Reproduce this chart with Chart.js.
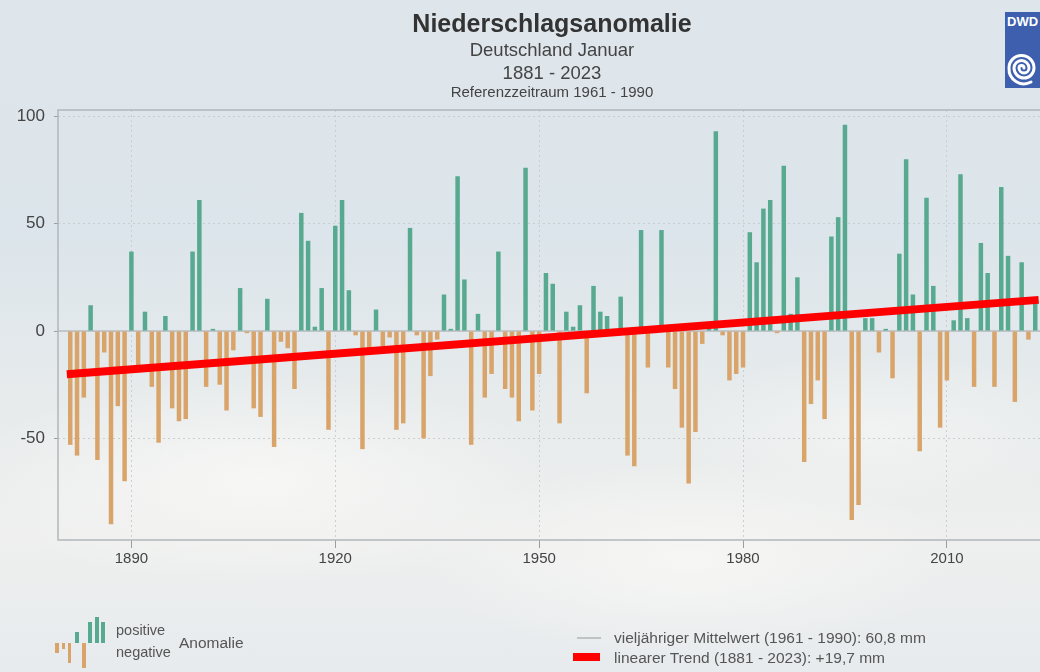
<!DOCTYPE html>
<html lang="de">
<head>
<meta charset="utf-8">
<title>Niederschlagsanomalie Deutschland Januar</title>
<script src="https://cdn.jsdelivr.net/npm/chart.js@4.4.1/dist/chart.umd.min.js"></script>
<style>
  html, body { margin: 0; padding: 0; }
  body {
    width: 1040px; height: 672px; overflow: hidden; position: relative;
    font-family: "Liberation Sans", Arial, sans-serif; color: #3a3a3a;
    background:
      radial-gradient(ellipse 420px 150px at 260px 480px, rgba(248,248,246,0.9), rgba(248,248,246,0) 70%),
      radial-gradient(ellipse 380px 140px at 690px 560px, rgba(247,247,245,0.9), rgba(247,247,245,0) 70%),
      radial-gradient(ellipse 300px 110px at 880px 430px, rgba(245,246,245,0.7), rgba(245,246,245,0) 70%),
      linear-gradient(to bottom, #dfe6eb 0%, #dce5eb 35%, #e7ebec 60%, #eeefee 80%, #e7ebee 100%);
  }
  #wrap { position: absolute; left: 0; top: 0; width: 1040px; height: 672px; }
  .title { position: absolute; left: 352px; width: 400px; text-align: center; white-space: nowrap; line-height: 1.15; }
  #t1 { top: 9px; font-size: 25px; font-weight: bold; color: #333; }
  #t2 { top: 39px; font-size: 18.5px; color: #444; }
  #t3 { top: 62px; font-size: 18.5px; color: #444; }
  #t4 { top: 83px; font-size: 15px; color: #444; }
  .leg { position: absolute; font-size: 15.5px; color: #555; white-space: nowrap; line-height: 18px; }
  .ib { position: absolute; }
  #logo { position: absolute; left: 1005px; top: 12px; width: 40px; height: 76px; background: #3d5fae; }
  #logo span { position: absolute; left: 2px; top: 2px; color: #fff; font-weight: bold; font-size: 13px; }
</style>
</head>
<body>
<div id="wrap"><canvas id="anomalyChart" width="1040" height="672"></canvas></div>

<div class="title" id="t1">Niederschlagsanomalie</div>
<div class="title" id="t2">Deutschland Januar</div>
<div class="title" id="t3">1881 - 2023</div>
<div class="title" id="t4">Referenzzeitraum 1961 - 1990</div>

<div id="logo">
  <span>DWD</span>
  <svg width="40" height="76" style="position:absolute;left:0;top:0">
    <path d="M19 56 A2.5 2.5 0 0 0 14 56 A5 5 0 0 0 24 56 A7.5 7.5 0 0 0 9 56 A10 10 0 0 0 29 56 A12.5 12.5 0 0 0 4 56 A15 15 0 0 0 26 70"
          fill="none" stroke="#fff" stroke-width="3" stroke-linecap="round"/>
  </svg>
</div>

<!-- legend, bottom left -->
<div class="ib" style="left:55px;top:643px;width:4px;height:10px;background:#d9a46a"></div>
<div class="ib" style="left:62px;top:643px;width:3px;height:6px;background:#d9a46a"></div>
<div class="ib" style="left:68px;top:643px;width:3px;height:20px;background:#d9a46a"></div>
<div class="ib" style="left:75px;top:632px;width:4px;height:11px;background:#57a98f"></div>
<div class="ib" style="left:82px;top:643px;width:4px;height:25px;background:#d9a46a"></div>
<div class="ib" style="left:88px;top:622px;width:4px;height:21px;background:#57a98f"></div>
<div class="ib" style="left:95px;top:617px;width:4px;height:26px;background:#57a98f"></div>
<div class="ib" style="left:101px;top:622px;width:4px;height:21px;background:#57a98f"></div>
<div class="leg" style="left:116px;top:621px;font-size:14.5px;">positive</div>
<div class="leg" style="left:116px;top:643px;font-size:14.5px;">negative</div>
<div class="leg" style="left:179px;top:634px;">Anomalie</div>

<!-- legend, bottom right -->
<div style="position:absolute;left:577px;top:637px;width:24px;height:2px;background:#c0c3c5"></div>
<div class="leg" style="left:614px;top:629px;">vieljähriger Mittelwert (1961 - 1990): 60,8 mm</div>
<div style="position:absolute;left:573px;top:653px;width:27px;height:8px;background:#ff0000"></div>
<div class="leg" style="left:614px;top:649px;">linearer Trend (1881 - 2023): +19,7 mm</div>

<script>
  // January precipitation anomaly (mm) vs. 1961-1990 mean, one value per year from 1881
  const startYear = 1881;
  const anomaly = [
    -53, -58, -31, 12, -60, -10, -90, -35, -70,      // 1881-1889
    37, -16, 9, -26, -52, 7, -36, -42, -41, 37,      // 1890-1899
    61, -26, 1, -25, -37, -9, 20, -1, -36, -40,      // 1900-1909
    15, -54, -5, -8, -27, 55, 42, 2, 20, -46,        // 1910-1919
    49, 61, 19, -2, -55, -8, 10, -7, -3, -46,        // 1920-1929
    -43, 48, -2, -50, -21, -4, 17, 1, 72, 24,        // 1930-1939
    -53, 8, -31, -20, 37, -27, -31, -42, 76, -37,    // 1940-1949
    -20, 27, 22, -43, 9, 2, 12, -29, 21, 9,          // 1950-1959
    7, 1, 16, -58, -63, 47, -17, -1, 47, -17,        // 1960-1969
    -27, -45, -71, -47, -6, 1, 93, -2, -23, -20,     // 1970-1979
    -17, 46, 32, 57, 61, -1, 77, 8, 25, -61,         // 1980-1989
    -34, -23, -41, 44, 53, 96, -88, -81, 6, 6,       // 1990-1999
    -10, 1, -22, 36, 80, 17, -56, 62, 21, -45,       // 2000-2009
    -23, 5, 73, 6, -26, 41, 27, -26, 67, 35,         // 2010-2019
    -33, 32, -4, 13                                  // 2020-2023
  ];
  const years = anomaly.map((v, i) => startYear + i);

  const xTicks = [1890, 1920, 1950, 1980, 2010];
  const yTicks = [-50, 0, 50, 100];

  // linear trend (1881 - 2023) and the long-term mean (= zero anomaly)
  const trendYears = [1880.5, 2023.5];
  const trendValues = [-20.1, 14.5];
  const meanYears = [1879.2, 2023.7];
  const meanValues = [0, 0];

  const posColor = '#57a98f';
  const negColor = '#d9a46a';

  // grey frame round the plot area (the right side runs off the picture)
  const plotFrame = {
    id: 'plotFrame',
    afterDraw(chart) {
      const { ctx, chartArea: a } = chart;
      ctx.save();
      ctx.strokeStyle = '#b3b7ba';
      ctx.lineWidth = 1.5;
      ctx.beginPath();
      ctx.moveTo(a.right + 2, a.top);
      ctx.lineTo(a.left, a.top);
      ctx.lineTo(a.left, a.bottom);
      ctx.lineTo(a.right + 2, a.bottom);
      ctx.stroke();
      ctx.restore();
    }
  };

  const ctx = document.getElementById('anomalyChart').getContext('2d');
  new Chart(ctx, {
    type: 'bar',
    data: {
      datasets: [
        {
          type: 'line',
          data: trendYears.map((x, i) => ({ x, y: trendValues[i] })),
          borderColor: '#ff0000',
          borderWidth: 8,
          pointRadius: 0,
          order: 0,
        },
        {
          type: 'bar',
          data: years.map((x, i) => ({ x, y: anomaly[i] })),
          backgroundColor: anomaly.map(v => v >= 0 ? posColor : negColor),
          barPercentage: 0.66,
          categoryPercentage: 1,
          order: 1,
        },
        {
          type: 'line',
          data: meanYears.map((x, i) => ({ x, y: meanValues[i] })),
          borderColor: '#b9bdc0',
          borderWidth: 1.5,
          pointRadius: 0,
          order: 2,
        },
      ],
    },
    options: {
      responsive: false,
      animation: false,
      layout: { padding: { top: 110, right: 0, bottom: 0, left: 0 } },
      plugins: {
        legend: { display: false },
        tooltip: { enabled: false },
      },
      scales: {
        x: {
          type: 'linear',
          offset: false,
          min: 1879.2,
          max: 2023.7,
          afterBuildTicks: s => { s.ticks = xTicks.map(v => ({ value: v })); },
          afterFit: s => { s.height = 132; },
          ticks: {
            color: '#444',
            font: { family: 'Liberation Sans', size: 15 },
            padding: 2,
            callback: v => String(v),
          },
          grid: { offset: false, color: '#c9ced1', tickLength: 8, tickColor: '#9a9ea1', tickBorderDash: [] },
          border: { display: false, dash: [2, 3] },
        },
        y: {
          min: -97.3,
          max: 102.9,
          afterBuildTicks: s => { s.ticks = yTicks.map(v => ({ value: v })); },
          afterFit: s => { s.width = 58; },
          ticks: {
            color: '#444',
            font: { family: 'Liberation Sans', size: 17 },
            padding: 9,
          },
          grid: { color: '#c9ced1', tickLength: 4, tickColor: '#9a9ea1', tickBorderDash: [] },
          border: { display: false, dash: [2, 3] },
        },
      },
    },
    plugins: [plotFrame],
  });
</script>
</body>
</html>
